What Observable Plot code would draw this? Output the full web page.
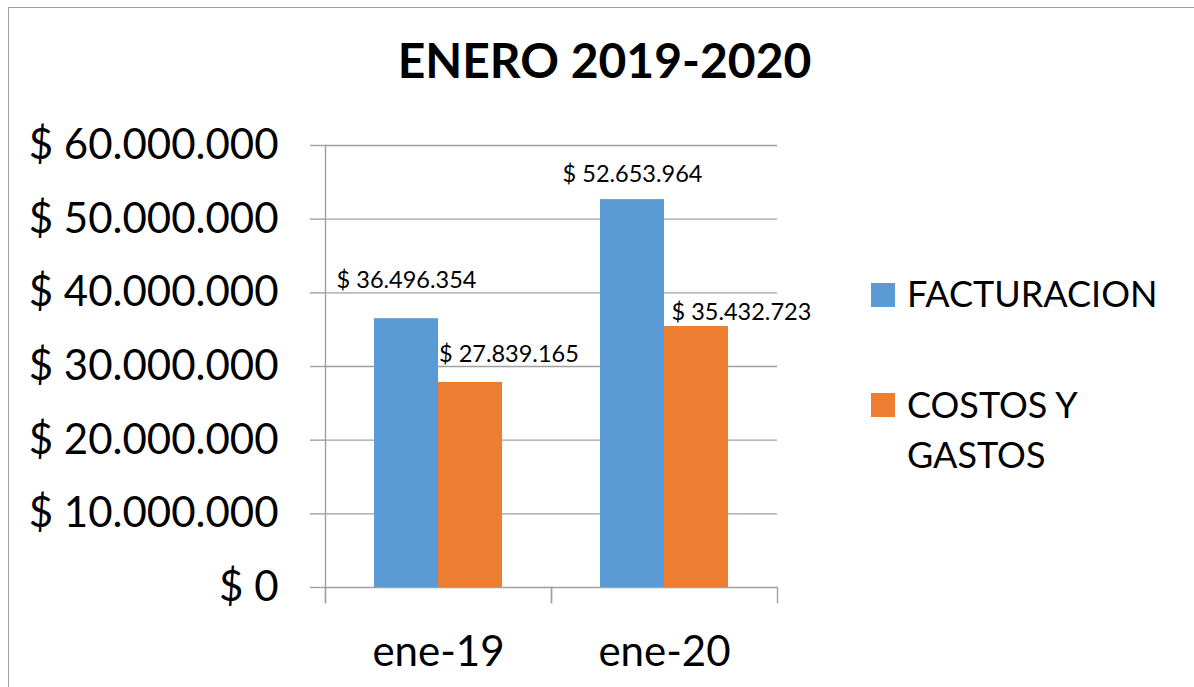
<!DOCTYPE html>
<html>
<head>
<meta charset="utf-8">
<script src="https://cdn.jsdelivr.net/npm/d3@7"></script>
<script src="https://cdn.jsdelivr.net/npm/@observablehq/plot@0.6"></script>
<style>
  html, body { margin: 0; padding: 0; background: #fff; }
  #wrap { position: relative; width: 1194px; height: 687px; overflow: hidden; font-family: Lato, "Open Sans", sans-serif; color: #000; }
  #border { position: absolute; left: 8px; top: 7px; right: -10px; bottom: -10px; border-left: 1.5px solid #a0a0a0; border-top: 1.5px solid #a0a0a0; }
  #title { position: absolute; left: 0; width: 1209px; top: 30px; text-align: center; font-weight: 700; font-size: 48px; line-height: 60px; }
  #chart { position: absolute; left: 0; top: 100px; }
  .lg-sw { position: absolute; width: 24px; height: 24px; }
  .lg-tx { position: absolute; font-size: 36px; line-height: 50px; white-space: nowrap; }
</style>
</head>
<body>
<div id="wrap">
  <div id="border"></div>
  <div id="title"></div>
  <div id="chart"></div>
</div>
<script>
// ---- data ----
const title = "ENERO 2019-2020";
const categories = ["ene-19", "ene-20"];
const series = ["FACTURACION", "COSTOS Y GASTOS"];
const facturacion = [36496354, 52653964];
const costosGastos = [27839165, 35432723];
const yTicks = [0, 10000000, 20000000, 30000000, 40000000, 50000000, 60000000];
const legendLines = [["FACTURACION"], ["COSTOS Y", "GASTOS"]];
const colors = ["#5b9bd5", "#ed7d31"];

// ---- table built from the arrays ----
const rows = [];
categories.forEach((c, i) => {
  rows.push({mes: c, serie: series[0], valor: facturacion[i]});
  rows.push({mes: c, serie: series[1], valor: costosGastos[i]});
});

// label placement (style only), same order as rows
const labelStyle = [
  {dx: 0, dy: -31, anchor: "middle"},
  {dx: -31.5, dy: -20, anchor: "start"},
  {dx: 0, dy: -18, anchor: "middle"},
  {dx: -25, dy: -6, anchor: "start"}
];

const locale = d3.formatLocale({decimal: ",", thousands: ".", grouping: [3], currency: ["$ ", ""]});
const money = locale.format("$,");

document.getElementById("title").textContent = title;

const H = 587, MT = 45, MB = 100;
const plotH = H - MT - MB;
const grid = "#a0a0a0";

const labelMarks = rows.map((r, i) => Plot.text([r], {
  fx: "mes", x: "serie", y: "valor",
  text: d => money(d.valor),
  dx: labelStyle[i].dx, dy: labelStyle[i].dy,
  textAnchor: labelStyle[i].anchor, lineAnchor: "bottom",
  fontSize: 23.5, fill: "#000"
}));

const plot = Plot.plot({
  width: 860,
  height: H,
  marginTop: MT,
  marginBottom: MB,
  marginLeft: 324,
  marginRight: 83,
  style: {fontFamily: "Lato, 'Open Sans', sans-serif", color: "#000", background: "transparent", overflow: "visible"},
  fx: {domain: categories, padding: 0, label: null},
  x: {domain: series, paddingInner: 0, paddingOuter: 0.74, axis: null},
  y: {domain: [0, 60000000], axis: null},
  color: {domain: series, range: colors},
  marks: [
    Plot.gridY(yTicks, {stroke: grid, strokeOpacity: 1, strokeWidth: 1.4}),
    Plot.frame({anchor: "left", facetAnchor: "left", insetBottom: -15, stroke: grid, strokeWidth: 1.4}),
    Plot.frame({anchor: "left", insetTop: plotH, insetBottom: -15, stroke: grid, strokeWidth: 1.4}),
    Plot.frame({anchor: "right", insetTop: plotH, insetBottom: -15, stroke: grid, strokeWidth: 1.4}),
    Plot.axisY({ticks: yTicks, tickSize: 15, tickPadding: 32, tickFormat: money, fontSize: 42, stroke: grid, strokeWidth: 1.4, label: null}),
    Plot.axisFx({anchor: "bottom", tickSize: 0, tickPadding: 49, fontSize: 42, label: null}),
    Plot.barY(rows, {fx: "mes", x: "serie", y: "valor", fill: "serie"}),
    ...labelMarks
  ]
});
document.getElementById("chart").appendChild(plot);

// legend from the color scale
const color = plot.scale("color");
const wrap = document.getElementById("wrap");
const legendPos = [{sw: 283, tx: 268}, {sw: 393, tx: 379}];
series.forEach((s, i) => {
  const sw = document.createElement("div");
  sw.className = "lg-sw";
  sw.style.left = "871px";
  sw.style.top = legendPos[i].sw + "px";
  sw.style.background = color.apply(s);
  wrap.appendChild(sw);
  const tx = document.createElement("div");
  tx.className = "lg-tx";
  tx.style.left = "907px";
  tx.style.top = legendPos[i].tx + "px";
  tx.innerHTML = legendLines[i].join("<br>");
  wrap.appendChild(tx);
});
</script>
</body>
</html>
